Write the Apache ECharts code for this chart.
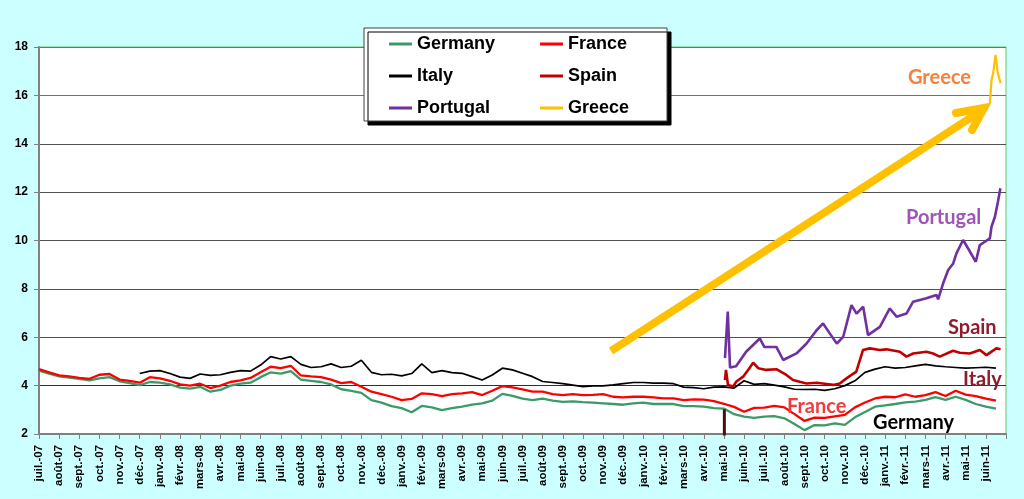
<!DOCTYPE html>
<html lang="fr">
<head>
<meta charset="UTF-8">
<title>Taux à 10 ans</title>
<style>
  html, body { margin: 0; padding: 0; background: #ccffff; }
  #chart { width: 1024px; height: 499px; }
</style>
</head>
<body>
<div id="chart"></div>
<script src="https://cdn.jsdelivr.net/npm/echarts@6/dist/echarts.min.js"></script>
<script>
// x = months since juil.-07 (one tick per month)
const monthLabels = [
  'juil.-07', 'août-07', 'sept.-07', 'oct.-07', 'nov.-07', 'déc.-07',
  'janv.-08', 'févr.-08', 'mars-08', 'avr.-08', 'mai-08', 'juin-08',
  'juil.-08', 'août-08', 'sept.-08', 'oct.-08', 'nov.-08', 'déc.-08',
  'janv.-09', 'févr.-09', 'mars-09', 'avr.-09', 'mai-09', 'juin-09',
  'juil.-09', 'août-09', 'sept.-09', 'oct.-09', 'nov.-09', 'déc.-09',
  'janv.-10', 'févr.-10', 'mars-10', 'avr.-10', 'mai-10', 'juin-10',
  'juil.-10', 'août-10', 'sept.-10', 'oct.-10', 'nov.-10', 'déc.-10',
  'janv.-11', 'févr.-11', 'mars-11', 'avr.-11', 'mai-11', 'juin-11'
];
const yTicks = [2, 18, 2]; // min, max, step

// half-monthly readings
const halfStep = 0.5;
const germany = [
  4.62, 4.50, 4.38, 4.33, 4.28, 4.22, 4.30, 4.35, 4.18, 4.10,
  4.02, 4.15, 4.12, 4.05, 3.92, 3.88, 3.95, 3.75, 3.82, 4.00,
  4.08, 4.12, 4.35, 4.55, 4.50, 4.60, 4.25, 4.20, 4.15, 4.05,
  3.85, 3.78, 3.70, 3.40, 3.30, 3.15, 3.07, 2.90, 3.16, 3.10,
  2.99, 3.07, 3.13, 3.21, 3.27, 3.38, 3.66, 3.58, 3.46, 3.40,
  3.46, 3.38, 3.33, 3.35, 3.32, 3.30, 3.27, 3.24, 3.21, 3.27,
  3.30, 3.24, 3.24, 3.24, 3.15, 3.15, 3.13, 3.07, 3.05, 2.82,
  2.72, 2.67, 2.72, 2.74, 2.65, 2.41, 2.16, 2.37, 2.36, 2.44,
  2.38, 2.69, 2.91, 3.13, 3.18, 3.24, 3.31, 3.34, 3.41, 3.52,
  3.41, 3.54, 3.41, 3.24, 3.13, 3.05
];
const france = [
  4.68, 4.55, 4.42, 4.38, 4.32, 4.28, 4.45, 4.48, 4.25, 4.20,
  4.12, 4.35, 4.30, 4.20, 4.05, 4.00, 4.08, 3.90, 4.00, 4.15,
  4.22, 4.32, 4.55, 4.78, 4.72, 4.82, 4.42, 4.38, 4.35, 4.25,
  4.10, 4.15, 3.95, 3.75, 3.65, 3.54, 3.40, 3.45, 3.68, 3.65,
  3.57, 3.65, 3.68, 3.73, 3.61, 3.79, 3.98, 3.93, 3.84, 3.75,
  3.75, 3.65, 3.61, 3.65, 3.61, 3.62, 3.65, 3.54, 3.51, 3.54,
  3.54, 3.51, 3.47, 3.47, 3.40, 3.43, 3.42, 3.36, 3.25, 3.12,
  2.92, 3.08, 3.09, 3.16, 3.10, 2.82, 2.54, 2.68, 2.67, 2.73,
  2.79, 3.10, 3.30, 3.47, 3.54, 3.52, 3.64, 3.54, 3.61, 3.73,
  3.57, 3.79, 3.63, 3.57, 3.46, 3.38
];
const italyStart = 5;
const italy = [
  4.50, 4.60, 4.62, 4.50, 4.35, 4.30, 4.48, 4.42, 4.45, 4.55,
  4.62, 4.60, 4.85, 5.20, 5.10, 5.20, 4.88, 4.75, 4.78, 4.90,
  4.75, 4.80, 5.05, 4.55, 4.45, 4.47, 4.40, 4.50, 4.90, 4.54,
  4.62, 4.54, 4.51, 4.37, 4.23, 4.44, 4.72, 4.65, 4.51, 4.37,
  4.17, 4.13, 4.08, 4.02, 3.96, 3.99, 3.99, 4.03, 4.08, 4.13,
  4.13, 4.10, 4.10, 4.08, 3.94, 3.92, 3.87, 3.94, 3.95, 3.90,
  4.20, 4.05, 4.08, 4.02, 3.95, 3.85, 3.84, 3.85, 3.80, 3.87,
  4.00, 4.20, 4.55, 4.68, 4.78, 4.72, 4.75, 4.82, 4.88, 4.82,
  4.78, 4.75, 4.72, 4.74, 4.76, 4.72
];

// [month, rate] readings for the series that start in mai-10
const spain = [
  [34.05, 4.23], [34.1, 4.65], [34.2, 4.03], [34.45, 3.96], [34.62, 4.17],
  [34.95, 4.37], [35.2, 4.65], [35.45, 4.95], [35.7, 4.72], [36.1, 4.65],
  [36.6, 4.68], [37.1, 4.44], [37.43, 4.23], [37.76, 4.16], [38.1, 4.09],
  [38.6, 4.12], [39.1, 4.07], [39.42, 4.03], [39.75, 4.09], [40.08, 4.3],
  [40.57, 4.58], [40.9, 5.47], [41.24, 5.54], [41.73, 5.47], [42.06, 5.5],
  [42.73, 5.4], [43.06, 5.2], [43.39, 5.33], [44.05, 5.4], [44.38, 5.33],
  [44.71, 5.2], [45.37, 5.44], [45.7, 5.36], [46.2, 5.33], [46.7, 5.47],
  [47.03, 5.26], [47.52, 5.54], [47.73, 5.5]
];
const spainDrop = [[34.02, 1.5], [34.02, 3.02]];
const portugal = [
  [34.05, 5.14], [34.19, 7.06], [34.3, 4.75], [34.6, 4.8], [35.1, 5.4],
  [35.78, 5.95], [36.0, 5.6], [36.6, 5.6], [36.94, 5.06], [37.6, 5.33],
  [38.1, 5.74], [38.6, 6.29], [38.92, 6.57], [39.25, 6.16], [39.6, 5.74],
  [39.92, 6.02], [40.33, 7.33], [40.58, 6.98], [40.91, 7.26], [41.15, 6.09],
  [41.74, 6.43], [42.23, 7.19], [42.57, 6.85], [43.06, 6.98], [43.39, 7.47],
  [44.05, 7.61], [44.55, 7.75], [44.63, 7.57], [44.88, 8.23], [45.13, 8.78],
  [45.38, 9.05], [45.54, 9.47], [45.87, 10.02], [46.12, 9.67], [46.5, 9.12],
  [46.7, 9.81], [46.95, 9.95], [47.2, 10.09], [47.28, 10.57], [47.45, 10.98],
  [47.6, 11.6], [47.72, 12.16]
];
const greece = [
  [47.2, 15.67], [47.28, 16.63], [47.36, 16.9], [47.48, 17.67],
  [47.58, 16.98], [47.64, 17.0], [47.73, 16.5]
];

function halfMonthly(values, start) {
  return values.map((v, i) => [start + i * halfStep, v]);
}

function line(name, color, width, data) {
  return {
    name: name,
    type: 'line',
    color: color,
    data: data,
    showSymbol: false,
    lineStyle: { color: color, width: width },
    emphasis: { disabled: true }
  };
}

const legendText = { fontFamily: 'Liberation Sans', fontWeight: 'bold', fontSize: 18, color: '#000', lineHeight: 20 };
const noteFont = 'bold 20px Lato';

const chart = echarts.init(document.getElementById('chart'));
chart.setOption({
  animation: false,
  backgroundColor: '#ccffff',
  grid: {
    left: 39, right: 18, top: 47, bottom: 65,
    show: true, backgroundColor: '#ffffff',
    borderColor: '#6cc46c', borderWidth: 1
  },
  legend: [
    {
      data: ['Germany', 'Italy', 'Portugal'],
      orient: 'vertical', left: 389, top: 34, padding: 0,
      icon: 'rect', itemWidth: 23, itemHeight: 3, itemGap: 12,
      textStyle: legendText
    },
    {
      data: ['France', 'Spain', 'Greece'],
      orient: 'vertical', left: 540, top: 34, padding: 0,
      icon: 'rect', itemWidth: 23, itemHeight: 3, itemGap: 12,
      textStyle: legendText
    }
  ],
  xAxis: {
    type: 'value', min: 0, max: monthLabels.length, interval: 1,
    axisLine: { lineStyle: { color: '#808080', width: 2 } },
    axisTick: { show: true, length: 5, lineStyle: { color: '#808080' } },
    splitLine: { show: false },
    axisLabel: {
      rotate: 90, margin: 11, color: '#000',
      fontFamily: 'Liberation Sans', fontWeight: 'bold', fontSize: 11.5,
      formatter: v => monthLabels[v] || ''
    }
  },
  yAxis: {
    type: 'value', min: yTicks[0], max: yTicks[1], interval: yTicks[2],
    axisLine: { show: true, lineStyle: { color: '#808080', width: 2 } },
    axisTick: { show: true, length: 5, lineStyle: { color: '#808080' } },
    splitLine: {
      lineStyle: {
        width: 1.2,
        color: ['#808080', '#303030', '#505050', '#505050', '#505050', '#505050', '#505050', '#707070', '#3a9a3a']
      }
    },
    axisLabel: {
      margin: 11, color: '#000',
      fontFamily: 'Liberation Sans', fontWeight: 'bold', fontSize: 12
    }
  },
  series: [
    line('Germany', '#3a9a68', 2.3, halfMonthly(germany, 0)),
    line('France', '#ff0000', 2.3, halfMonthly(france, 0)),
    line('Italy', '#000000', 1.7, halfMonthly(italy, italyStart)),
    line('spainDrop', '#4a1010', 3, spainDrop),
    line('Spain', '#c00000', 2.6, spain),
    line('Portugal', '#7030a0', 2.6, portugal),
    line('Greece', '#ffc000', 2.2, greece)
  ],
  graphic: [
    {
      type: 'rect', z: 3,
      shape: { x: 364, y: 28, width: 303, height: 93 },
      style: { fill: '#fff', stroke: '#404040', lineWidth: 1, shadowColor: '#000', shadowOffsetX: 4, shadowOffsetY: 4, shadowBlur: 0 }
    },
    {
      type: 'line', z: 6,
      shape: { x1: 611, y1: 351, x2: 981, y2: 111 },
      style: { stroke: '#ffc000', lineWidth: 8 }
    },
    {
      type: 'polyline', z: 6,
      shape: { points: [[956, 113], [984, 108], [972, 130]] },
      style: { stroke: '#ffc000', fill: null, lineWidth: 8, lineCap: 'round', lineJoin: 'miter' }
    },
    { type: 'text', z: 10, x: 908, y: 78, style: { text: 'Greece', font: noteFont, fill: '#f5823a', verticalAlign: 'middle' } },
    { type: 'text', z: 10, x: 906, y: 218, style: { text: 'Portugal', font: noteFont, fill: '#9e55b8', verticalAlign: 'middle' } },
    { type: 'text', z: 10, x: 948, y: 328, style: { text: 'Spain', font: noteFont, fill: '#8e1c2c', verticalAlign: 'middle' } },
    { type: 'text', z: 10, x: 963, y: 380, style: { text: 'Italy', font: noteFont, fill: '#8e1c2c', verticalAlign: 'middle' } },
    { type: 'text', z: 10, x: 787, y: 407, style: { text: 'France', font: noteFont, fill: '#f03c3c', verticalAlign: 'middle' } },
    { type: 'text', z: 10, x: 873, y: 423, style: { text: 'Germany', font: noteFont, fill: '#000', verticalAlign: 'middle' } }
  ]
});
</script>
</body>
</html>
